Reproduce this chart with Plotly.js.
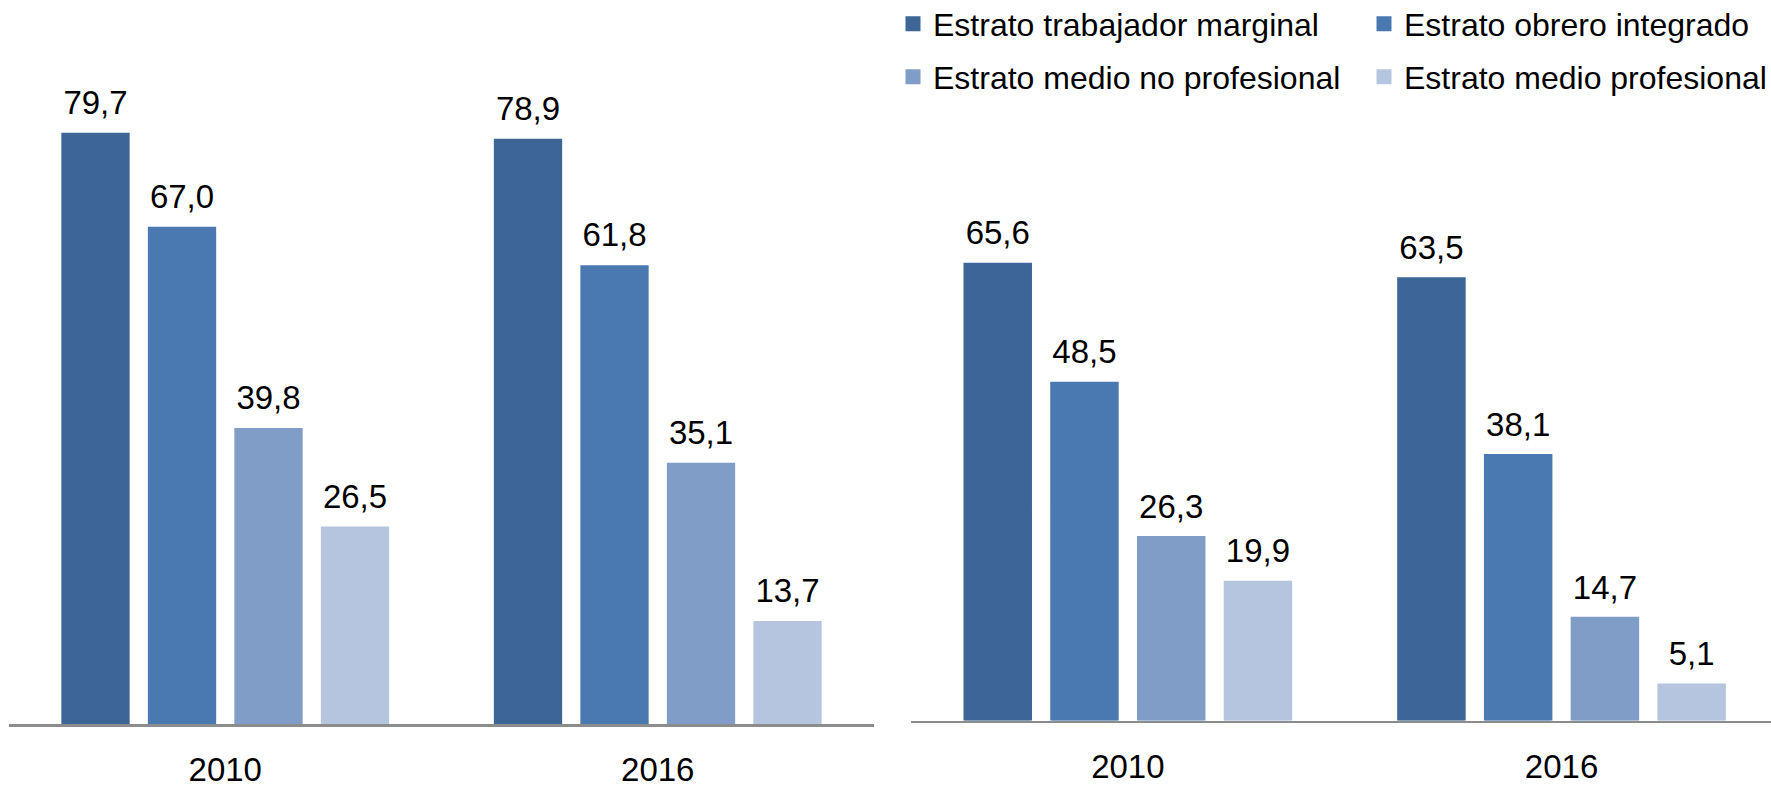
<!DOCTYPE html>
<html>
<head>
<meta charset="utf-8">
<script src="https://cdn.plot.ly/plotly-3.0.1.min.js"></script>
<style>html,body{margin:0;padding:0;background:#fff;}#chart{width:1771px;height:787px;}</style>
</head>
<body>
<div id="chart"></div>
<script>
var categories = ['2010', '2016'];
var seriesNames = ['Estrato trabajador marginal', 'Estrato obrero integrado', 'Estrato medio no profesional', 'Estrato medio profesional'];
var leftMarginal = [79.7, 78.9];
var leftObrero = [67.0, 61.8];
var leftMedioNoProf = [39.8, 35.1];
var leftMedioProf = [26.5, 13.7];
var rightMarginal = [65.6, 63.5];
var rightObrero = [48.5, 38.1];
var rightMedioNoProf = [26.3, 14.7];
var rightMedioProf = [19.9, 5.1];
var colors = ['#3D6596', '#4979B0', '#7F9DC7', '#B5C5DF'];

var FONT = 'Liberation Sans, Arial, sans-serif';
var LABEL_PAD = 1.4; // gap between bar top and its value label (axis units)
var leftData = [leftMarginal, leftObrero, leftMedioNoProf, leftMedioProf];
var rightData = [rightMarginal, rightObrero, rightMedioNoProf, rightMedioProf];
var traces = [];
function addSeries(vals, i, xa, ya, legendOn, side) {
  var grp = side + i;
  traces.push({
    type: 'bar', x: categories, y: vals, name: seriesNames[i],
    xaxis: xa, yaxis: ya, offsetgroup: grp,
    marker: {color: colors[i], line: {color: colors[i], width: 3}},
    textposition: 'none',
    showlegend: legendOn, legend: (i < 2 ? 'legend' : 'legend2'), hoverinfo: 'skip'
  });
  // transparent label carrier sitting on top of the bar
  traces.push({
    type: 'bar', x: categories, base: vals, y: vals.map(function () { return LABEL_PAD; }),
    customdata: vals, xaxis: xa, yaxis: ya, offsetgroup: grp,
    marker: {color: 'rgba(0,0,0,0)', line: {width: 0}},
    texttemplate: '%{customdata:.1f}', textposition: 'outside', cliponaxis: false,
    textfont: {family: FONT, size: 33, color: '#000'},
    showlegend: false, hoverinfo: 'skip'
  });
}
for (var i = 0; i < 4; i++) addSeries(leftData[i], i, 'x', 'y', false, 'L');
for (var j = 0; j < 4; j++) addSeries(rightData[j], j, 'x2', 'y2', true, 'R');

var axisCommon = {
  type: 'category', showgrid: false, zeroline: false, showline: true,
  linecolor: '#8C8C8C', linewidth: 2.5, ticks: 'outside', ticklen: 15,
  tickcolor: 'rgba(0,0,0,0)', tickfont: {family: FONT, size: 33, color: '#000'},
  fixedrange: true
};
var yCommon = {showgrid: false, zeroline: false, showline: false, showticklabels: false, ticks: '', fixedrange: true};

var legendCommon = {
  orientation: 'h', xref: 'paper', yref: 'paper', xanchor: 'left', yanchor: 'middle',
  font: {family: FONT, size: 32, color: '#000'}, bgcolor: 'rgba(0,0,0,0)',
  entrywidth: 426, traceorder: 'normal'
};

var layout = {
  width: 1771, height: 787,
  margin: {l: 0, r: 0, t: 0, b: 0, autoexpand: false},
  paper_bgcolor: '#fff', plot_bgcolor: 'rgba(0,0,0,0)',
  separators: ',.',
  barmode: 'group', bargap: 0.2, bargroupgap: 0.245,
  xaxis: Object.assign({}, axisCommon, {domain: [9/1771, 874/1771], range: [-0.5, 1.5], anchor: 'y'}),
  yaxis: Object.assign({}, yCommon, {domain: [63/787, 766/787], range: [0, 95], anchor: 'x'}),
  xaxis2: Object.assign({}, axisCommon, {domain: [911/1771, 1], range: [-0.5, 1.483], anchor: 'y2'}),
  yaxis2: Object.assign({}, yCommon, {domain: [66.4/787, 727.4/787], range: [0, 95], anchor: 'x2'}),
  legend: Object.assign({}, legendCommon, {x: 893/1771, y: 1 - 24/787}),
  legend2: Object.assign({}, legendCommon, {x: 893/1771, y: 1 - 77/787}),
  showlegend: true
};

Plotly.newPlot('chart', traces, layout, {displayModeBar: false, staticPlot: true});
</script>
</body>
</html>
